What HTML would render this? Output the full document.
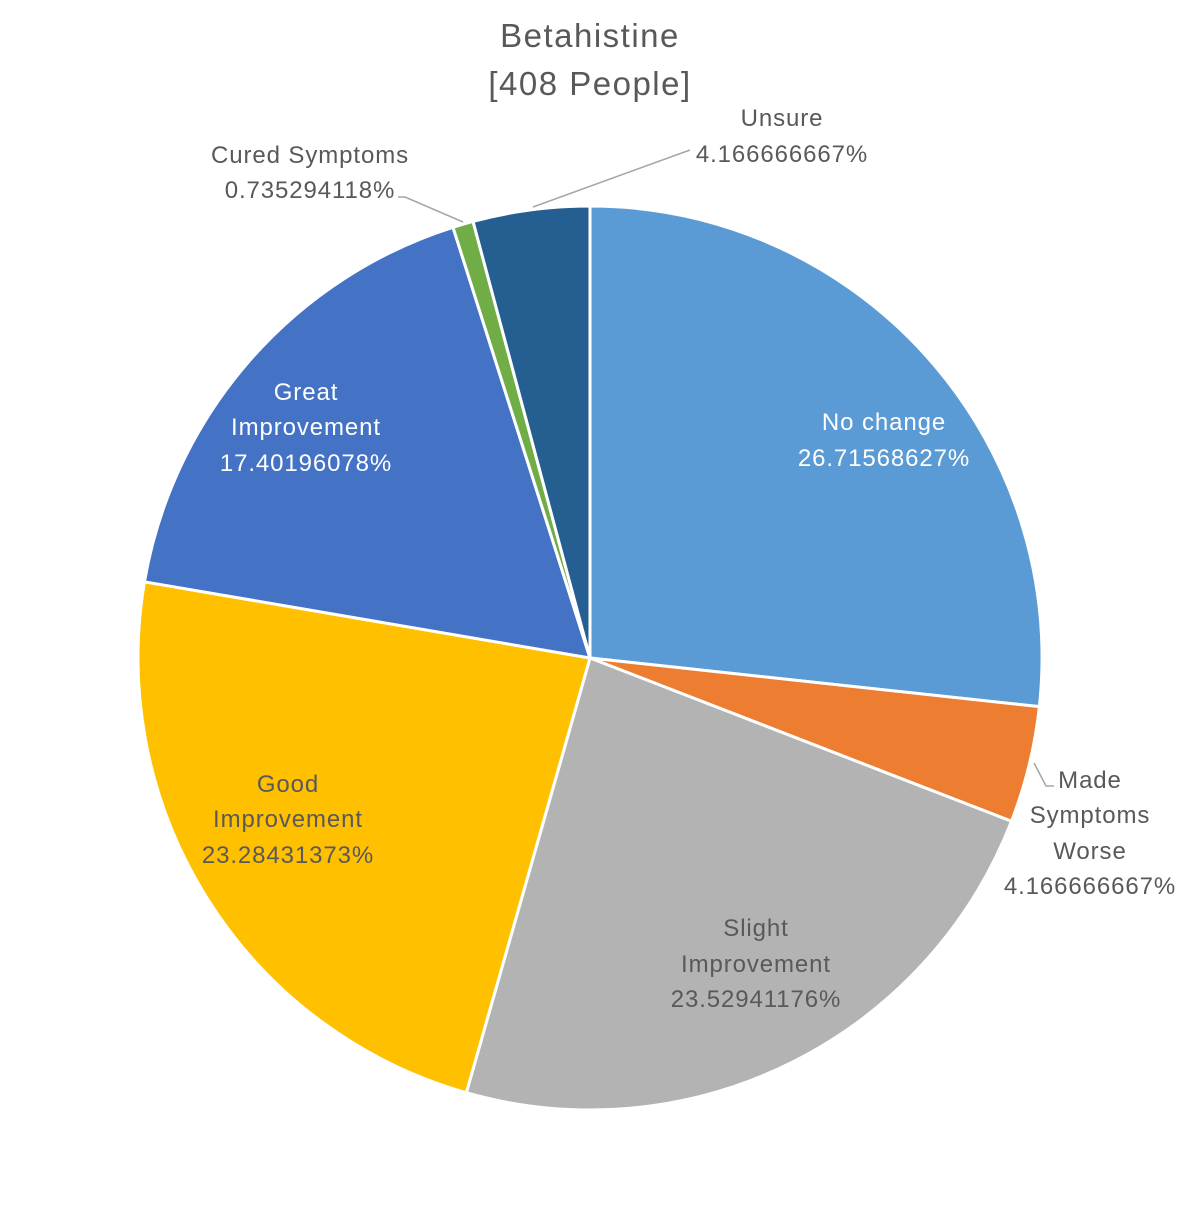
<!DOCTYPE html>
<html><head><style>
body{margin:0;background:#fff;}
svg text{font-family:"Liberation Sans",sans-serif;font-size:24px;letter-spacing:0.9px;}
</style></head><body>
<svg id="s" width="1183" height="1203" viewBox="0 0 1183 1203" xmlns="http://www.w3.org/2000/svg">
<rect width="1183" height="1203" fill="#fff"/>
<g id="pie"></g>
<g fill="#595959" text-anchor="middle">
<text x="590" y="47" style="font-size:33px;letter-spacing:1.5px">Betahistine</text>
<text x="590" y="95" style="font-size:33px;letter-spacing:1.5px">[408 People]</text>
<text x="782" y="126">Unsure</text>
<text x="782" y="162">4.166666667%</text>
<text x="310" y="163">Cured Symptoms</text>
<text x="310" y="198">0.735294118%</text>
<text x="1090" y="788">Made</text>
<text x="1090" y="823">Symptoms</text>
<text x="1090" y="859">Worse</text>
<text x="1090" y="894">4.166666667%</text>
<text x="756" y="936">Slight</text>
<text x="756" y="972">Improvement</text>
<text x="756" y="1007">23.52941176%</text>
<text x="288" y="792">Good</text>
<text x="288" y="827">Improvement</text>
<text x="288" y="863">23.28431373%</text>
</g>
<g fill="#fff" text-anchor="middle">
<text x="884" y="430">No change</text>
<text x="884" y="466">26.71568627%</text>
<text x="306" y="400">Great</text>
<text x="306" y="435">Improvement</text>
<text x="306" y="471">17.40196078%</text>
</g>
<g stroke="#a6a6a6" stroke-width="1.5" fill="none">
<polyline points="533,207 690,150"/>
<polyline points="463,222 405,197 398,197"/>
<polyline points="1034,763 1046,786 1054,786"/>
</g>
</svg>
<script>
const cx=590,cy=658,r=452;
const d=[[26.71568627,"#5B9BD5"],[4.166666667,"#ED7D31"],[23.52941176,"#B3B3B3"],[23.28431373,"#FFC000"],[17.40196078,"#4472C4"],[0.735294118,"#70AD47"],[4.166666667,"#255E91"]];
let a=0,h="";
for(const [v,c] of d){const a2=a+v/100*2*Math.PI;
const x1=cx+r*Math.sin(a),y1=cy-r*Math.cos(a),x2=cx+r*Math.sin(a2),y2=cy-r*Math.cos(a2);
h+=`<path d="M${cx},${cy}L${x1},${y1}A${r},${r} 0 ${a2-a>Math.PI?1:0} 1 ${x2},${y2}Z" fill="${c}" stroke="#fff" stroke-width="3" stroke-linejoin="round"/>`;a=a2;}
document.getElementById("pie").innerHTML=h;
</script>
</body></html>
